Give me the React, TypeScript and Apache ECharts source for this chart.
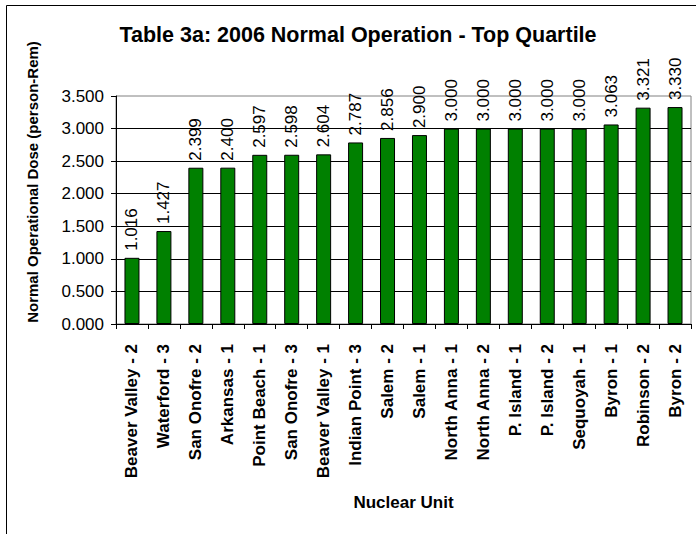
import React, { useEffect, useRef } from "react";
import * as echarts from "echarts";

const categories = [
  "Beaver Valley - 2",
  "Waterford - 3",
  "San Onofre - 2",
  "Arkansas - 1",
  "Point Beach - 1",
  "San Onofre - 3",
  "Beaver Valley - 1",
  "Indian Point - 3",
  "Salem - 2",
  "Salem - 1",
  "North Anna - 1",
  "North Anna - 2",
  "P. Island - 1",
  "P. Island - 2",
  "Sequoyah - 1",
  "Byron - 1",
  "Robinson - 2",
  "Byron - 2",
];
const doses = [
  1.016, 1.427, 2.399, 2.4, 2.597, 2.598, 2.604, 2.787, 2.856, 2.9, 3.0, 3.0,
  3.0, 3.0, 3.0, 3.063, 3.321, 3.33,
];
const titleText = "Table 3a: 2006 Normal Operation - Top Quartile";
const yTitle = "Normal Operational Dose (person-Rem)";
const xTitle = "Nuclear Unit";

const FONT = "Liberation Sans, Arial, sans-serif";

export default function App() {
  const ref = useRef<HTMLDivElement>(null);
  useEffect(() => {
    document.body.style.margin = "0";
    const chart = echarts.init(ref.current!, null, { renderer: "svg" });
    const gridLeft = 116;
    const gridTop = 96;
    const gridRight = 691;
    const gridBottom = 324;
    chart.setOption({
      animation: false,
      backgroundColor: "#ffffff",
      textStyle: { fontFamily: FONT },
      title: {
        text: titleText,
        left: 358,
        top: 24,
        textAlign: "center",
        padding: 0,
        textStyle: { fontFamily: FONT, fontSize: 21.5, fontWeight: "bold", color: "#000" },
      },
      graphic: [
        {
          type: "rect",
          shape: { x: 6.5, y: 5.5, width: 720, height: 620 },
          style: { fill: "none", stroke: "#000", lineWidth: 1 },
          silent: true,
        },
        {
          type: "text",
          x: 32,
          y: 182,
          rotation: Math.PI / 2,
          style: {
            text: yTitle,
            fontFamily: FONT,
            fontSize: 15,
            fontWeight: "bold",
            fill: "#000",
            align: "center",
            verticalAlign: "middle",
          },
        },
      ],
      grid: {
        left: gridLeft,
        top: gridTop,
        width: gridRight - gridLeft,
        height: gridBottom - gridTop,
        show: true,
        borderColor: "#808080",
        borderWidth: 1,
        backgroundColor: "transparent",
      },
      xAxis: {
        type: "category",
        data: categories,
        boundaryGap: true,
        name: xTitle,
        nameLocation: "middle",
        nameGap: 170,
        nameTextStyle: { fontFamily: FONT, fontSize: 17, fontWeight: "bold", color: "#000" },
        axisLine: { lineStyle: { color: "#000", width: 1 } },
        axisTick: { show: true, inside: false, length: 5, alignWithLabel: false, lineStyle: { color: "#000" } },
        axisLabel: {
          interval: 0,
          rotate: 90,
          margin: 20,
          fontFamily: FONT,
          fontSize: 17,
          fontWeight: "bold",
          color: "#000",
        },
        splitLine: { show: false },
      },
      yAxis: {
        type: "value",
        min: 0,
        max: 3.5,
        interval: 0.5,
        axisLine: { show: true, lineStyle: { color: "#000", width: 1 } },
        axisTick: { show: true, inside: false, length: 5, lineStyle: { color: "#000" } },
        axisLabel: {
          margin: 12,
          fontFamily: FONT,
          fontSize: 17,
          color: "#000",
          formatter: (v: number) => v.toFixed(3),
        },
        splitLine: {
          show: true,
          showMaxLine: false,
          lineStyle: { color: "#000", width: 1 },
        },
      },
      series: [
        {
          type: "bar",
          data: doses,
          barWidth: 15,
          itemStyle: { color: "#008000", borderColor: "#000", borderWidth: 1 },
          label: {
            show: true,
            position: "top",
            rotate: 90,
            align: "left",
            verticalAlign: "middle",
            distance: 7,
            fontFamily: FONT,
            fontSize: 17,
            color: "#000",
            formatter: (p: any) => Number(p.value).toFixed(3),
          },
        },
      ],
    });
    return () => chart.dispose();
  }, []);
  return <div ref={ref} style={{ width: 696, height: 534 }} />;
}
